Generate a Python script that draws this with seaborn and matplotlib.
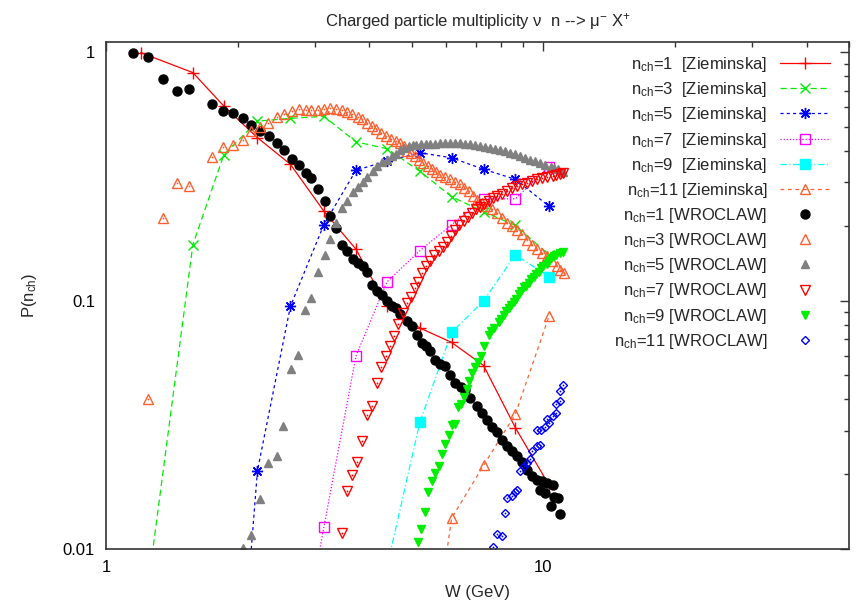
import numpy as np
import pandas as pd
import matplotlib
matplotlib.use('Agg')
import matplotlib.pyplot as plt
from matplotlib.ticker import FixedLocator, FixedFormatter, LogLocator, NullFormatter
import seaborn as sns

nan = np.nan

# ---------------- Zieminska (lines + points) ----------------
ZW = [1.2, 1.58, 1.86, 2.22, 2.64, 3.15, 3.73, 4.39, 5.22, 6.17, 7.3, 8.63, 10.3]
Z1 = [0.997, 0.828, 0.607, 0.453, 0.354, 0.229, 0.161, 0.0948, 0.0776, 0.0679, 0.0548, 0.0308, 0.0181]
Z3 = [0.0042, 0.168, 0.387, 0.528, 0.542, 0.552, 0.436, 0.409, 0.332, 0.262, 0.228, 0.201, 0.153]
Z5 = [nan, nan, 0.0004, 0.0207, 0.0948, 0.2025, 0.335, 0.365, 0.394, 0.376, 0.338, 0.308, 0.240]
Z7 = [nan, nan, nan, nan, 0.0022, 0.0123, 0.060, 0.119, 0.159, 0.202, 0.257, 0.257, 0.346]
Z9 = [nan, nan, nan, nan, nan, nan, 0.001, 0.00846, 0.0324, 0.0745, 0.0998, 0.153, 0.125]
Z11 = [nan, nan, nan, nan, nan, nan, nan, nan, 0.0017, 0.0133, 0.0217, 0.0349, 0.0864]

# ---------------- WROCLAW (points) ----------------
W1_W = [1.15, 1.25, 1.35, 1.45, 1.55, 1.75, 1.85, 1.95, 2.06, 2.15, 2.25, 2.36, 2.46, 2.55, 2.66,
        2.76, 2.86, 2.95, 3.06, 3.17, 3.26, 3.36, 3.47, 3.56, 3.67, 3.77, 3.86, 3.96, 4.06, 4.16,
        4.27, 4.38, 4.5, 4.61, 4.71, 4.88, 5.01, 5.14, 5.28, 5.38, 5.51, 5.66, 5.81, 5.97, 6.13,
        6.29, 6.47, 6.63, 6.81, 7.05, 7.24, 7.43, 7.63, 7.84, 8.04, 8.26, 8.48, 8.71, 8.94, 9.18,
        9.42, 9.67, 9.93, 10.2, 10.5, 9.84, 10.1, 10.6, 10.8, 10.4, 10.9]
W1_P = [0.997, 0.961, 0.783, 0.698, 0.709, 0.617, 0.582, 0.571, 0.545, 0.509, 0.480, 0.460, 0.430,
        0.406, 0.372, 0.353, 0.327, 0.312, 0.282, 0.252, 0.220, 0.196, 0.168, 0.159, 0.147, 0.142,
        0.138, 0.130, 0.116, 0.109, 0.105, 0.100, 0.095, 0.0933, 0.0886, 0.0825, 0.0793, 0.0729,
        0.0677, 0.0654, 0.0625, 0.0578, 0.0557, 0.0547, 0.0503, 0.0468, 0.0448, 0.0438, 0.0405,
        0.0375, 0.0353, 0.0331, 0.0311, 0.0297, 0.0275, 0.0259, 0.0247, 0.0236, 0.0225, 0.0208,
        0.0196, 0.0190, 0.0187, 0.0184, 0.0181, 0.0173, 0.0168, 0.0162, 0.0160, 0.0149, 0.0138]

W3_W = [1.25, 1.35, 1.45, 1.55, 1.75, 1.85, 1.95, 2.06, 2.15, 2.25, 2.35, 2.46, 2.55, 2.66, 2.76,
        2.86, 2.95, 3.06, 3.15, 3.26, 3.36, 3.46, 3.56, 3.66, 3.76, 3.85, 3.95, 4.06, 4.15, 4.26,
        4.37, 4.48, 4.60, 4.71, 4.80, 4.88, 4.99, 5.09, 5.20, 5.32, 5.44, 5.56, 5.69, 5.81, 5.97,
        6.13, 6.29, 6.45, 6.60, 6.75, 6.90, 7.06, 7.23, 7.44, 7.62, 7.84, 8.04, 8.26, 8.47, 8.71,
        8.93, 9.18, 9.41, 9.67, 9.92, 10.2, 10.46, 10.75, 10.94, 11.13]
W3_P = [0.0401, 0.216, 0.298, 0.289, 0.380, 0.417, 0.423, 0.443, 0.482, 0.502, 0.517, 0.551, 0.566,
        0.580, 0.589, 0.584, 0.585, 0.585, 0.589, 0.598, 0.593, 0.584, 0.575, 0.562, 0.551, 0.537,
        0.517, 0.505, 0.489, 0.475, 0.460, 0.446, 0.439, 0.432, 0.418, 0.400, 0.392, 0.382, 0.370,
        0.359, 0.347, 0.338, 0.330, 0.322, 0.315, 0.308, 0.301, 0.294, 0.284, 0.276, 0.265, 0.255,
        0.247, 0.240, 0.233, 0.226, 0.215, 0.206, 0.200, 0.193, 0.185, 0.176, 0.168, 0.161, 0.155,
        0.151, 0.144, 0.138, 0.133, 0.129]

W5_W = [2.06, 2.15, 2.25, 2.35, 2.46, 2.54, 2.65, 2.75, 2.85, 2.95, 3.06, 3.16, 3.26, 3.36, 3.47,
        3.56, 3.67, 3.77, 3.86, 3.96, 4.07, 4.16, 4.27, 4.38, 4.50, 4.61, 4.71, 4.81, 4.92, 5.03,
        5.12, 5.24, 5.38, 5.51, 5.66, 5.81, 5.97, 6.13, 6.29, 6.45, 6.63, 6.81, 6.99, 7.18, 7.37,
        7.57, 7.77, 7.98, 8.19, 8.40, 8.63, 8.85, 9.09, 9.33, 9.58, 9.85, 10.1, 10.4, 10.6, 10.8, 11.1]
W5_P = [0.0101, 0.0114, 0.0159, 0.0222, 0.0237, 0.0314, 0.0530, 0.0604, 0.0914, 0.1025, 0.131, 0.153,
        0.177, 0.206, 0.237, 0.251, 0.273, 0.287, 0.301, 0.315, 0.333, 0.350, 0.361, 0.370, 0.382,
        0.390, 0.403, 0.410, 0.419, 0.422, 0.424, 0.426, 0.426, 0.426, 0.428, 0.430, 0.432, 0.432,
        0.431, 0.430, 0.428, 0.426, 0.422, 0.419, 0.416, 0.413, 0.408, 0.404, 0.399, 0.394, 0.388,
        0.382, 0.376, 0.370, 0.364, 0.357, 0.351, 0.346, 0.342, 0.338, 0.329]

W7_W = [3.46, 3.55, 3.66, 3.75, 3.85, 3.96, 4.06, 4.16, 4.26, 4.37, 4.47, 4.56, 4.66, 4.77, 4.89,
        4.98, 5.09, 5.18, 5.28, 5.4, 5.51, 5.63, 5.76, 5.89, 6.02, 6.16, 6.29, 6.42, 6.57, 6.72,
        6.87, 7.03, 7.18, 7.33, 7.5, 7.66, 7.84, 8.04, 8.26, 8.47, 8.71, 8.93, 9.18, 9.41, 9.67,
        9.92, 10.2, 10.5, 10.7, 10.9, 11.1]
W7_P = [0.0116, 0.0172, 0.0199, 0.0225, 0.0273, 0.0347, 0.0378, 0.0466, 0.0543, 0.06, 0.0655, 0.0719,
        0.0808, 0.0892, 0.0979, 0.103, 0.112, 0.119, 0.129, 0.138, 0.144, 0.152, 0.158, 0.164,
        0.172, 0.182, 0.192, 0.201, 0.209, 0.217, 0.225, 0.233, 0.239, 0.246, 0.252, 0.259, 0.264,
        0.27, 0.276, 0.283, 0.289, 0.294, 0.298, 0.303, 0.308, 0.312, 0.315, 0.319, 0.322, 0.325, 0.327]

W9_W = [5.16, 5.26, 5.36, 5.46, 5.56, 5.66, 5.76, 5.86, 5.97, 6.07, 6.19, 6.29, 6.37, 6.47, 6.58,
        6.68, 6.77, 6.88, 6.99, 7.1, 7.21, 7.33, 7.5, 7.6, 7.72, 7.9, 8.01, 8.11, 8.23, 8.33, 8.45,
        8.55, 8.67, 8.78, 8.91, 9.01, 9.14, 9.25, 9.39, 9.5, 9.64, 9.76, 9.9, 10, 10.2, 10.3, 10.4,
        10.6, 10.7, 10.9, 11.1]
W9_P = [0.0107, 0.012, 0.0141, 0.0169, 0.0187, 0.0203, 0.0215, 0.0241, 0.0264, 0.0288, 0.0315, 0.0318,
        0.0372, 0.0383, 0.041, 0.0442, 0.0473, 0.0512, 0.0543, 0.0568, 0.06, 0.0658, 0.0729, 0.0757,
        0.0778, 0.0823, 0.0846, 0.0874, 0.0907, 0.0931, 0.0964, 0.0991, 0.102, 0.106, 0.109, 0.113,
        0.115, 0.118, 0.122, 0.125, 0.128, 0.131, 0.135, 0.138, 0.141, 0.144, 0.148, 0.151, 0.153,
        0.156, 0.157]

W11_W = [7.68, 7.84, 8.06, 8.17, 8.26, 8.48, 8.63, 8.7, 8.86, 9.02, 9.19, 9.34, 9.42, 9.65, 9.81,
         9.65, 9.9, 10.1, 10.2, 10.3, 10.5, 10.7, 10.7, 10.9, 10.9, 11.1]
W11_P = [0.0102, 0.0115, 0.0113, 0.014, 0.016, 0.0163, 0.0169, 0.0173, 0.0206, 0.0215, 0.0222, 0.0231,
         0.0247, 0.0259, 0.0263, 0.0302, 0.0302, 0.0311, 0.0334, 0.0321, 0.0344, 0.0353, 0.0383,
         0.0395, 0.0431, 0.0456]

nch_labels = ['1', '3', '5', '7', '9', '11']
title = r'Charged particle multiplicity ν  n --> μ$^{-}$ X$^{+}$'

# ---------------- style ----------------
sns.set_theme(style='white')
plt.rcParams['font.family'] = ['Liberation Sans', 'DejaVu Sans']
plt.rcParams['mathtext.fontset'] = 'custom'
plt.rcParams['mathtext.rm'] = 'Liberation Sans'
plt.rcParams['mathtext.it'] = 'Liberation Sans:italic'
plt.rcParams['mathtext.bf'] = 'Liberation Sans:bold'

FS = 12
fig = plt.figure(figsize=(8.56, 6.04), dpi=100)
ax = fig.add_axes([106/856, 1-549/604, (849-106)/856, (549-42)/604])

zstyles = [
    ('#ff0000', '-', '+', 8, None),
    ('#00ee00', (0, (5, 3)), 'x', 6.5, None),
    ('#0000ff', (0, (2.5, 2.5)), (8, 2, 0), 8, None),
    ('#ff00ff', (0, (1, 1.5)), 's', 6.5, 'none'),
    ('#00ffff', (0, (5, 2, 1, 2)), 's', 7, None),
    ('#ff6030', (0, (3, 3)), '^', 7, 'none'),
]
zpad = ['  ', '  ', '  ', '  ', '  ', ' ']
for Z, (c, ls, m, ms, mfc), lab, pad in zip([Z1, Z3, Z5, Z7, Z9, Z11], zstyles, nch_labels, zpad):
    d = pd.DataFrame({'W': ZW, 'P': Z}).dropna()
    sns.lineplot(data=d, x='W', y='P', ax=ax, color=c, linestyle=ls, linewidth=0.9,
                 marker=m, markersize=ms, markeredgecolor=c, markeredgewidth=1.0,
                 markerfacecolor=(mfc if mfc else c), estimator=None, sort=False,
                 label=r'n$_{\mathrm{ch}}$=' + lab + pad + '[Zieminska]')

wdata = [(W1_W, W1_P), (W3_W, W3_P), (W5_W, W5_P), (W7_W, W7_P), (W9_W, W9_P), (W11_W, W11_P)]
wstyles = [
    ('#000000', 'o', 6.5, True),
    ('#ff6030', '^', 6.5, False),
    ('#808080', '^', 6, True),
    ('#ff0000', 'v', 6.5, False),
    ('#00ee00', 'v', 6, True),
    ('#0000ff', 'D', 4.3, False),
]
for (wx, wy), (c, m, ms, filled), lab in zip(wdata, wstyles, nch_labels):
    d = pd.DataFrame({'W': wx, 'P': wy})
    sns.lineplot(data=d, x='W', y='P', ax=ax, color=c, linestyle='none',
                 marker=m, markersize=ms, markeredgecolor=c, markeredgewidth=1.0,
                 markerfacecolor=(c if filled else 'none'), estimator=None, sort=False,
                 label=r'n$_{\mathrm{ch}}$=' + lab + ' [WROCLAW]')
    if not filled:
        sns.lineplot(data=d, x='W', y='P', ax=ax, color=c, linestyle='none', marker='o',
                     markersize=1.3, markeredgewidth=0, markerfacecolor=c,
                     estimator=None, sort=False, label='_nolegend_')

ax.set_xscale('log'); ax.set_yscale('log')
ax.set_xlim(1, 50); ax.set_ylim(0.01, 1.1)
ax.xaxis.set_major_locator(FixedLocator([1, 10]))
ax.xaxis.set_major_formatter(FixedFormatter(['1', '10']))
ax.xaxis.set_minor_locator(LogLocator(base=10, subs=range(2, 10)))
ax.xaxis.set_minor_formatter(NullFormatter())
ax.yaxis.set_major_locator(FixedLocator([0.01, 0.1, 1]))
ax.yaxis.set_major_formatter(FixedFormatter(['0.01', '0.1', '1']))
ax.yaxis.set_minor_locator(LogLocator(base=10, subs=range(2, 10)))
ax.yaxis.set_minor_formatter(NullFormatter())
ax.tick_params(which='both', direction='in', top=True, right=True, color='#333333',
               labelcolor='black', labelsize=FS, pad=8)
ax.tick_params(which='major', length=6.5, width=1)
ax.tick_params(which='minor', length=3.5, width=1)
for sp in ax.spines.values():
    sp.set_color('#333333'); sp.set_linewidth(1.2)

ax.set_title(title, fontsize=FS, pad=11)
ax.set_xlabel('W (GeV)', fontsize=FS)
ax.set_ylabel(r'P(n$_{\mathrm{ch}}$)', fontsize=FS)
ax.xaxis.set_label_coords(0.5, (549-592)/507)
ax.xaxis.label.set_va('center')
ax.yaxis.set_label_coords((30-106)/743, 0.5)
ax.yaxis.label.set_va('center')

h, l = ax.get_legend_handles_labels()
ax.legend(h, l, loc='upper right', bbox_to_anchor=((830-106)/743, (549-55)/507),
          markerfirst=False, frameon=False, fontsize=FS, handlelength=3.0,
          handletextpad=0.75, labelspacing=0.37, borderpad=0, borderaxespad=0)
fig.savefig('out.png', dpi=100)
